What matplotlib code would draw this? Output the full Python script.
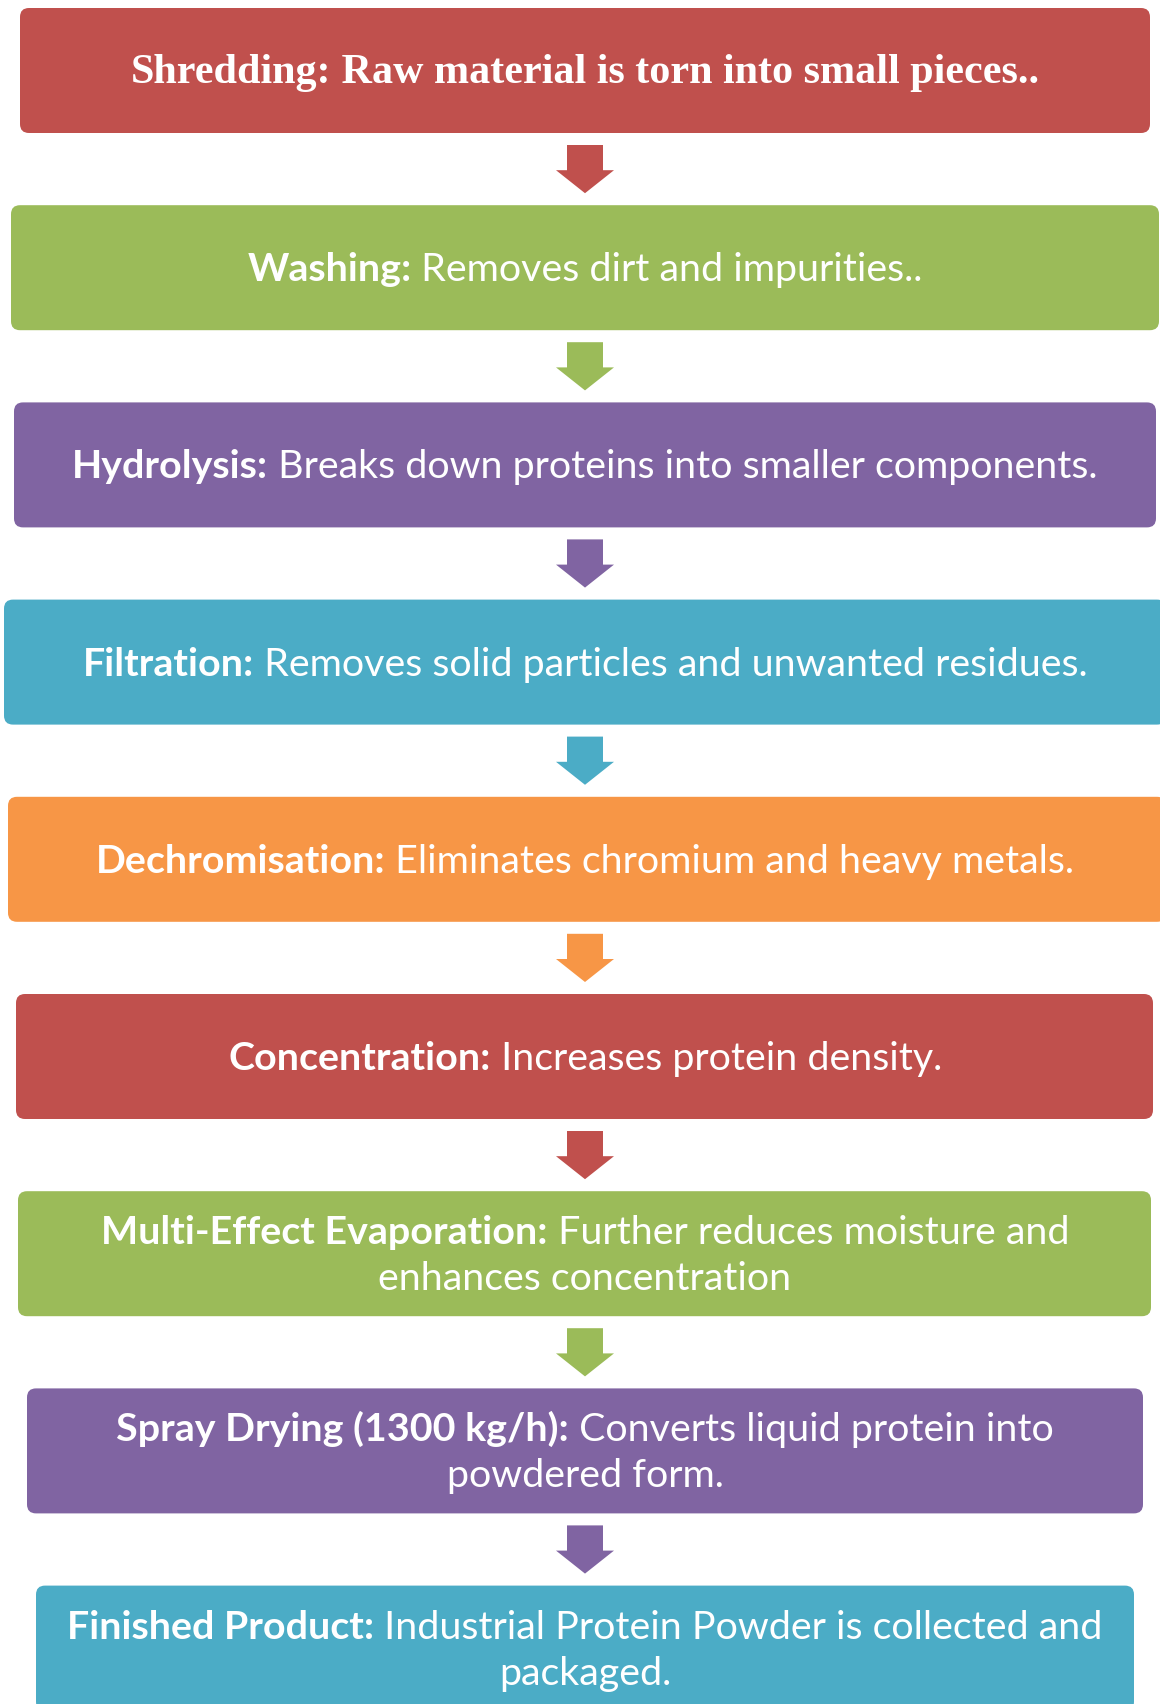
import matplotlib
matplotlib.use("Agg")
import matplotlib.pyplot as plt
from matplotlib.patches import FancyBboxPatch, Polygon

# ---- data ----
step_titles = ["Shredding:", "Washing:", "Hydrolysis:", "Filtration:", "Dechromisation:",
               "Concentration:", "Multi-Effect Evaporation:", "Spray Drying (1300 kg/h):",
               "Finished Product:"]
step_line1 = [" Raw material is torn into small pieces..",
              " Removes dirt and impurities..",
              " Breaks down proteins into smaller components.",
              " Removes solid particles and unwanted residues.",
              " Eliminates chromium and heavy metals.",
              " Increases protein density.",
              " Further reduces moisture and",
              " Converts liquid protein into",
              " Industrial Protein Powder is collected and"]
step_line2 = ["", "", "", "", "", "",
              "enhances concentration",
              "powdered form.",
              "packaged."]
palette = ["#C0504D", "#9BBB59", "#8064A2", "#4BACC6", "#F79646"]

# ---- layout ----
W, H = 1160, 1704
box_left = [20, 11, 14, 4, 8, 16, 18, 27, 36]
box_right = [1150, 1159, 1156, 1166, 1166, 1153, 1151, 1143, 1134]
top0, pitch, box_h = 8, 197.2, 125
text_cx = 585
sans = ["Lato", "DejaVu Sans"]
serif = ["Liberation Serif", "DejaVu Serif"]
fs = 28.4

fig = plt.figure(figsize=(W / 100, H / 100), dpi=100)
ax = fig.add_axes([0, 0, 1, 1])
ax.set_xlim(0, W)
ax.set_ylim(H, 0)
ax.axis("off")
renderer = fig.canvas.get_renderer()


def mixed_line(y, bold, reg, family, size, bold_all=False):
    t1 = ax.text(0, y, bold, family=family, fontsize=size, fontweight="bold",
                 color="white", va="baseline", ha="left")
    t2 = ax.text(0, y, reg, family=family, fontsize=size,
                 fontweight="bold" if bold_all else "normal",
                 color="white", va="baseline", ha="left")
    w1 = t1.get_window_extent(renderer).width if bold else 0
    w2 = t2.get_window_extent(renderer).width if reg else 0
    x0 = text_cx - (w1 + w2) / 2
    t1.set_x(x0)
    t2.set_x(x0 + w1)


n = len(step_titles)
for i in range(n):
    col = palette[i % len(palette)]
    top = top0 + i * pitch
    box = FancyBboxPatch((box_left[i], top), box_right[i] - box_left[i], box_h,
                         boxstyle="round,pad=0,rounding_size=9",
                         facecolor=col, edgecolor="none", zorder=1)
    ax.add_patch(box)
    cy = top + box_h / 2
    if i == 0:
        mixed_line(cy + 13, step_titles[i], step_line1[i], serif, 30.3, bold_all=True)
    elif step_line2[i]:
        mixed_line(cy - 23 + 13.5, step_titles[i], step_line1[i], sans, fs)
        mixed_line(cy + 23 + 13.5, "", step_line2[i], sans, fs)
    else:
        mixed_line(cy + 13.5, step_titles[i], step_line1[i], sans, fs)

    # arrow to next box
    if i < n - 1:
        bot = top + box_h
        nxt = top0 + (i + 1) * pitch
        s_top = bot + 12
        tip = nxt - 12
        h_start = tip - 23
        ax_c = text_cx
        pts = [(ax_c - 18, s_top), (ax_c + 18, s_top), (ax_c + 18, h_start),
               (ax_c + 29, h_start), (ax_c, tip), (ax_c - 29, h_start),
               (ax_c - 18, h_start)]
        ax.add_patch(Polygon(pts, closed=True, facecolor=col, edgecolor="none", zorder=1))

fig.savefig("out.png", dpi=100)
